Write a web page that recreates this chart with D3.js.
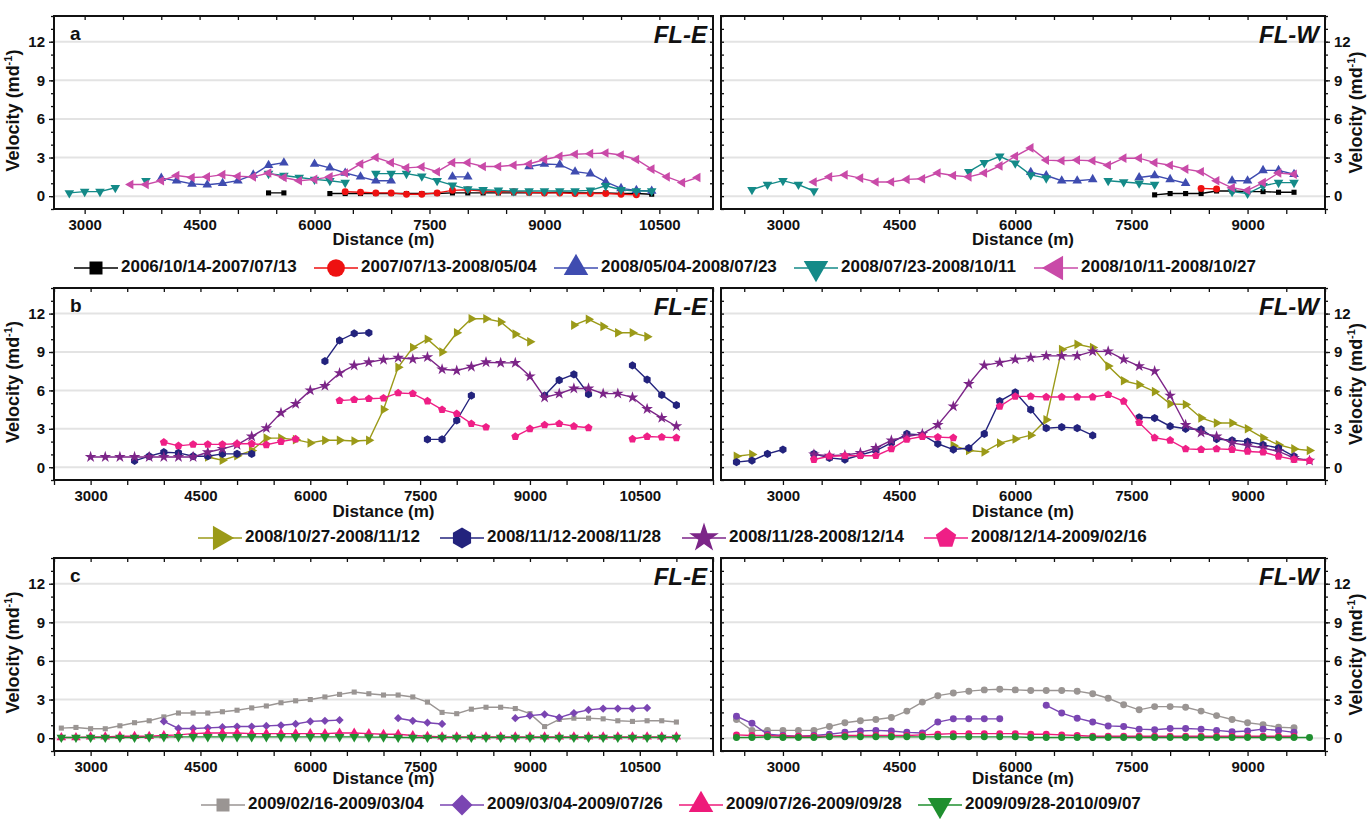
<!DOCTYPE html>
<html>
<head>
<meta charset="utf-8">
<script src="https://cdn.jsdelivr.net/npm/d3@7"></script>
<style>
  body { margin: 0; background: #fff; }
  svg { display: block; }
  text { font-family: "Liberation Sans", Arial, sans-serif; font-weight: bold; fill: #111; }
</style>
</head>
<body>
<script>
// ---- data: [distance (m), velocity (m/d)], null = gap in the profile ----

// panel a, FL-E
const aE_0614 = [[5400,0.25],[5600,0.25],null,[6200,0.2],[6400,0.2],[6600,0.2],[6800,0.2],[7000,0.2],[7200,0.2],[7400,0.2],[7600,0.2],[7800,0.25],[8000,0.25],[8200,0.25],[8400,0.25],[8600,0.25],[8800,0.25],[9000,0.25],[9200,0.3],[9400,0.25],[9600,0.25],[9800,0.25],[10000,0.2],[10200,0.2],[10400,0.15]];
const aE_0713 = [[6400,0.35],[6600,0.3],[6800,0.25],[7000,0.25],[7200,0.15],[7400,0.15],[7600,0.25],[7800,0.45],[8000,0.5],[8200,0.4],[8400,0.35],[8600,0.35],[8800,0.3],[9000,0.25],[9200,0.25],[9400,0.2],[9600,0.2],[9800,0.2],[10000,0.15],[10200,0.1]];
const aE_0504 = [[4000,1.4],[4200,1.2],[4400,0.95],[4600,0.88],[4800,1.0],[5000,1.2],[5200,1.65],[5400,2.4],[5600,2.6],null,[6000,2.5],[6200,2.2],[6400,1.8],[6600,1.5],[6800,1.2],[7000,1.2],null,[7800,1.5],[8000,1.5],null,[8800,2.3],[9000,2.5],[9200,2.45],[9400,1.9],[9600,1.75],[9800,1.1],[10000,0.6],[10200,0.45],[10400,0.4]];
const aE_0723 = [[2800,0.25],[3000,0.35],[3200,0.35],[3400,0.65],null,[3800,1.2],null,[5400,1.75],[5600,1.6],[5800,1.45],[6000,1.3],[6200,1.2],[6400,1.05],null,[6800,1.75],[7000,1.75],[7200,1.75],[7400,1.55],[7600,1.2],[7800,0.85],[8000,0.55],[8200,0.5],[8400,0.45],[8600,0.4],[8800,0.4],[9000,0.4],[9200,0.4],[9400,0.4],[9600,0.45],[9800,0.8],[10000,0.5],[10200,0.4],[10400,0.4]];
const aE_1011 = [[3600,0.9],[3800,0.9],[4000,1.2],[4200,1.6],[4400,1.45],[4600,1.5],[4800,1.67],[5000,1.55],[5200,1.5],[5400,1.8],[5600,1.45],[5800,1.2],[6000,1.3],[6200,1.5],[6400,1.8],[6600,2.5],[6800,3.0],[7000,2.6],[7200,2.2],[7400,2.27],[7600,1.9],[7800,2.6],[8000,2.6],[8200,2.3],[8400,2.3],[8600,2.4],[8800,2.5],[9000,2.85],[9200,3.1],[9400,3.25],[9600,3.3],[9800,3.35],[10000,3.2],[10200,2.85],[10400,2.1],[10600,1.5],[10800,1.05],[11000,1.45]];

// panel a, FL-W
const aW_0614 = [[7800,0.1],[8000,0.2],[8200,0.2],[8400,0.2],[8600,0.4],[8800,0.4],[9000,0.35],[9200,0.35],[9400,0.3],[9600,0.3]];
const aW_0713 = [[8400,0.6],[8600,0.55]];
const aW_0504 = [[6200,1.85],[6400,1.6],[6600,1.2],[6800,1.2],[7000,1.3],null,[7600,1.45],[7800,1.6],[8000,1.3],[8200,1.0],null,[8800,1.2],[9000,1.2],[9200,2.0],[9400,2.0],[9600,1.7]];
const aW_0723 = [[2600,0.5],[2800,0.9],[3000,1.2],[3200,0.9],[3400,0.4],null,[5400,1.9],[5600,2.6],[5800,3.1],[6000,2.55],[6200,1.65],[6400,1.4],null,[7200,1.2],[7400,1.1],[7600,1.0],[7800,0.9],null,[8800,0.35],[9000,0.2],[9200,0.8],[9400,1.05],[9600,1.05]];
const aW_1011 = [[3400,1.1],[3600,1.5],[3800,1.65],[4000,1.4],[4200,1.1],[4400,1.1],[4600,1.3],[4800,1.35],[5000,1.8],[5200,1.6],[5400,1.5],[5600,1.8],[5800,2.35],[6000,3.1],[6200,3.75],[6400,2.8],[6600,2.75],[6800,2.8],[7000,2.75],[7200,2.4],[7400,2.95],[7600,2.95],[7800,2.6],[8000,2.4],[8200,2.1],[8400,1.9],[8600,1.2],[8800,0.65],[9000,0.45],[9200,1.05],[9400,1.8],[9600,1.7]];

// panel b, FL-E
const bE_1027 = [[4600,0.8],[4800,0.55],[5000,0.9],[5200,1.3],[5400,2.27],[5600,2.27],[5800,2.15],[6000,1.9],[6200,2.1],[6400,2.1],[6600,2.05],[6800,2.1],[7000,4.5],[7200,7.8],[7400,9.35],[7600,10.0],[7800,9.0],[8000,10.5],[8200,11.6],[8400,11.6],[8600,11.35],[8800,10.4],[9000,9.8],null,[9600,11.1],[9800,11.55],[10000,11.0],[10200,10.5],[10400,10.5],[10600,10.2]];
const bE_1112 = [[3600,0.5],[3800,0.86],[4000,1.17],[4200,1.12],[4400,0.86],[4600,0.86],[4800,1.04],[5000,1.04],[5200,1.04],null,[6200,8.28],[6400,9.9],[6600,10.45],[6800,10.5],null,[7600,2.17],[7800,2.17],[8000,3.65],[8200,5.6],null,[9200,5.6],[9400,6.8],[9600,7.25],[9800,5.7],null,[10400,7.95],[10600,6.85],[10800,5.65],[11000,4.85]];
const bE_1128 = [[3000,0.8],[3200,0.8],[3400,0.8],[3600,0.8],[3800,0.8],[4000,0.8],[4200,0.8],[4400,0.8],[4600,1.17],[4800,1.43],[5000,1.75],[5200,2.4],[5400,3.05],[5600,4.25],[5800,4.95],[6000,6.0],[6200,6.35],[6400,7.35],[6600,7.95],[6800,8.2],[7000,8.4],[7200,8.55],[7400,8.45],[7600,8.6],[7800,7.65],[8000,7.55],[8200,7.85],[8400,8.2],[8600,8.15],[8800,8.15],[9000,7.1],[9200,5.45],[9400,5.75],[9600,6.15],[9800,6.15],[10000,5.75],[10200,5.75],[10400,5.45],[10600,4.55],[10800,3.85],[11000,3.2]];
const bE_1214 = [[4000,1.95],[4200,1.67],[4400,1.78],[4600,1.78],[4800,1.78],[5000,1.83],[5200,1.83],[5400,1.75],[5600,2.0],[5800,2.2],null,[6400,5.2],[6600,5.28],[6800,5.35],[7000,5.4],[7200,5.8],[7400,5.75],[7600,5.17],[7800,4.5],[8000,4.18],[8200,3.4],[8400,3.13],null,[8800,2.4],[9000,3.0],[9200,3.3],[9400,3.4],[9600,3.2],[9800,3.08],null,[10400,2.2],[10600,2.4],[10800,2.35],[11000,2.3]];

// panel b, FL-W
const bW_1027 = [[2400,0.86],[2600,1.0],null,[5200,1.7],[5400,1.3],[5600,1.2],[5800,1.88],[6000,2.2],[6200,2.5],[6400,3.7],[6600,9.2],[6800,9.6],[7000,9.35],[7200,7.9],[7400,6.75],[7600,6.45],[7800,5.9],[8000,4.95],[8200,4.9],[8400,3.85],[8600,3.45],[8800,3.45],[9000,3.0],[9200,2.3],[9400,1.75],[9600,1.43],[9800,1.3]];
const bW_1112 = [[2400,0.4],[2600,0.52],[2800,1.04],[3000,1.38],null,[3400,1.04],[3600,0.73],[3800,0.6],[4000,0.95],[4200,1.3],[4400,1.9],[4600,2.6],[4800,2.53],[5000,1.83],[5200,1.38],[5400,1.5],[5600,2.6],[5800,5.17],[6000,5.85],[6200,4.5],[6400,3.05],[6600,3.13],[6800,3.05],[7000,2.48],null,[7600,3.9],[7800,3.84],[8000,3.2],[8200,3.0],[8400,2.95],[8600,2.2],[8800,2.1],[9000,2.0],[9200,1.75],[9400,1.5],[9600,0.85]];
const bW_1128 = [[3400,1.0],[3600,0.9],[3800,0.95],[4000,1.12],[4200,1.5],[4400,2.1],[4600,2.4],[4800,2.6],[5000,3.3],[5200,4.75],[5400,6.5],[5600,7.96],[5800,8.17],[6000,8.43],[6200,8.56],[6400,8.7],[6600,8.7],[6800,8.7],[7000,9.05],[7200,9.05],[7400,8.43],[7600,7.9],[7800,7.5],[8000,5.6],[8200,3.3],[8400,2.7],[8600,2.4],[8800,1.9],[9000,1.7],[9200,1.5],[9400,1.23],[9600,0.73],[9800,0.52]];
const bW_1214 = [[3400,0.6],[3600,0.86],[3800,0.9],[4000,0.9],[4200,0.9],[4400,1.43],[4600,2.17],[4800,2.4],[5000,2.35],[5200,2.3],null,[5800,4.75],[6000,5.53],[6200,5.53],[6400,5.48],[6600,5.48],[6800,5.48],[7000,5.48],[7200,5.67],[7400,5.15],[7600,3.48],[7800,2.3],[8000,2.1],[8200,1.43],[8400,1.38],[8600,1.43],[8800,1.38],[9000,1.23],[9200,1.17],[9400,0.85],[9600,0.6],[9800,0.52]];

// panel c, FL-E
const cE_0216 = [[2600,0.78],[2800,0.83],[3000,0.73],[3200,0.73],[3400,0.96],[3600,1.2],[3800,1.35],[4000,1.65],[4200,1.95],[4400,1.95],[4600,1.95],[4800,2.05],[5000,2.17],[5200,2.35],[5400,2.5],[5600,2.75],[5800,2.9],[6000,3.0],[6200,3.2],[6400,3.4],[6600,3.58],[6800,3.45],[7000,3.35],[7200,3.35],[7400,3.2],[7600,2.8],[7800,2.0],[8000,1.9],[8200,2.25],[8400,2.4],[8600,2.4],[8800,2.3],[9000,1.9],[9200,0.9],[9400,1.45],[9600,1.55],[9800,1.55],[10000,1.5],[10200,1.35],[10400,1.3],[10600,1.35],[10800,1.35],[11000,1.25]];
const cE_0304 = [[4000,1.3],[4200,0.75],[4400,0.75],[4600,0.8],[4800,0.85],[5000,0.9],[5200,0.9],[5400,0.95],[5600,1.0],[5800,1.1],[6000,1.3],[6200,1.35],[6400,1.4],null,[7200,1.55],[7400,1.35],[7600,1.2],[7800,1.1],null,[8800,1.55],[9000,1.75],[9200,1.85],[9400,1.6],[9600,1.95],[9800,2.2],[10000,2.3],[10200,2.3],[10400,2.3],[10600,2.35]];
const cE_0726 = [[2600,0.05],[2800,0.05],[3000,0.1],[3200,0.1],[3400,0.15],[3600,0.15],[3800,0.15],[4000,0.2],[4200,0.25],[4400,0.35],[4600,0.4],[4800,0.4],[5000,0.4],[5200,0.35],[5400,0.35],[5600,0.35],[5800,0.35],[6000,0.35],[6200,0.35],[6400,0.4],[6600,0.4],[6800,0.35],[7000,0.3],[7200,0.3],[7400,0.2],[7600,0.15],[7800,0.1],[8000,0.1],[8200,0.1],[8400,0.1],[8600,0.1],[8800,0.1],[9000,0.1],[9200,0.1],[9400,0.1],[9600,0.1],[9800,0.1],[10000,0.1],[10200,0.1],[10400,0.1],[10600,0.1],[10800,0.1],[11000,0.1]];
const cE_0928 = [[2600,0.05],[2800,0.05],[3000,0.05],[3200,0.05],[3400,0.05],[3600,0.05],[3800,0.08],[4000,0.1],[4200,0.1],[4400,0.1],[4600,0.1],[4800,0.1],[5000,0.1],[5200,0.1],[5400,0.1],[5600,0.1],[5800,0.1],[6000,0.1],[6200,0.1],[6400,0.1],[6600,0.1],[6800,0.08],[7000,0.08],[7200,0.05],[7400,0.05],[7600,0.05],[7800,0.05],[8000,0.05],[8200,0.05],[8400,0.05],[8600,0.05],[8800,0.05],[9000,0.05],[9200,0.05],[9400,0.05],[9600,0.05],[9800,0.05],[10000,0.05],[10200,0.05],[10400,0.05],[10600,0.05],[10800,0.05],[11000,0.05]];

// panel c, FL-W
const cW_0216 = [[2400,1.45],[2600,0.6],[2800,0.6],[3000,0.6],[3200,0.6],[3400,0.6],[3600,0.9],[3800,1.2],[4000,1.35],[4200,1.45],[4400,1.6],[4600,2.1],[4800,2.8],[5000,3.3],[5200,3.5],[5400,3.65],[5600,3.75],[5800,3.8],[6000,3.75],[6200,3.7],[6400,3.7],[6600,3.7],[6800,3.65],[7000,3.45],[7200,3.1],[7400,2.6],[7600,2.2],[7800,2.45],[8000,2.45],[8200,2.4],[8400,2.1],[8600,1.75],[8800,1.45],[9000,1.2],[9200,1.05],[9400,0.85],[9600,0.8]];
const cW_0304 = [[2400,1.7],[2600,1.15],[2800,0.3],[3000,0.2],[3200,0.15],[3400,0.2],[3600,0.3],[3800,0.45],[4000,0.55],[4200,0.6],[4400,0.55],[4600,0.45],[4800,0.4],[5000,1.25],[5200,1.5],[5400,1.5],[5600,1.5],[5800,1.5],null,[6400,2.55],[6600,1.95],[6800,1.55],[7000,1.25],[7200,0.95],[7400,0.9],[7600,0.7],[7800,0.65],[8000,0.75],[8200,0.75],[8400,0.7],[8600,0.6],[8800,0.5],[9000,0.55],[9200,0.7],[9400,0.6],[9600,0.45]];
const cW_0726 = [[2400,0.25],[2600,0.2],[2800,0.2],[3000,0.15],[3200,0.15],[3400,0.15],[3600,0.15],[3800,0.2],[4000,0.2],[4200,0.2],[4400,0.2],[4600,0.2],[4800,0.25],[5000,0.3],[5200,0.35],[5400,0.35],[5600,0.35],[5800,0.35],[6000,0.35],[6200,0.3],[6400,0.3],[6600,0.25],[6800,0.2],[7000,0.15],[7200,0.15],[7400,0.15],[7600,0.15],[7800,0.15],[8000,0.15],[8200,0.15],[8400,0.15],[8600,0.15],[8800,0.15],[9000,0.15],[9200,0.15],[9400,0.15],[9600,0.15]];
const cW_0928 = [[2400,0.05],[2600,0.05],[2800,0.1],[3000,0.05],[3200,0.05],[3400,0.05],[3600,0.1],[3800,0.1],[4000,0.1],[4200,0.1],[4400,0.1],[4600,0.1],[4800,0.1],[5000,0.1],[5200,0.1],[5400,0.1],[5600,0.1],[5800,0.1],[6000,0.1],[6200,0.05],[6400,0.05],[6600,0.05],[6800,0.05],[7000,0.05],[7200,0.05],[7400,0.05],[7600,0.05],[7800,0.05],[8000,0.05],[8200,0.05],[8400,0.05],[8600,0.05],[8800,0.05],[9000,0.05],[9200,0.05],[9400,0.05],[9600,0.05],[9800,0.05]];

// legend labels
const legendA = ["2006/10/14-2007/07/13","2007/07/13-2008/05/04","2008/05/04-2008/07/23","2008/07/23-2008/10/11","2008/10/11-2008/10/27"];
const legendB = ["2008/10/27-2008/11/12","2008/11/12-2008/11/28","2008/11/28-2008/12/14","2008/12/14-2009/02/16"];
const legendC = ["2009/02/16-2009/03/04","2009/03/04-2009/07/26","2009/07/26-2009/09/28","2009/09/28-2010/09/07"];

const yTickLabels = [0, 3, 6, 9, 12];

// ---- styles ----
const poly = n => ({
  draw(ctx, size) {
    const r = Math.sqrt(size / (n / 2 * Math.sin(2 * Math.PI / n)));
    for (let i = 0; i < n; i++) {
      const a = -Math.PI / 2 + i * 2 * Math.PI / n;
      i ? ctx.lineTo(r * Math.cos(a), r * Math.sin(a)) : ctx.moveTo(r * Math.cos(a), r * Math.sin(a));
    }
    ctx.closePath();
  }
});

const sq = {type: d3.symbolSquare, rot: 0, size: 26};
const circ = {type: d3.symbolCircle, rot: 0, size: 38};
const triUp = {type: d3.symbolTriangle, rot: 0, size: 40};
const triDown = {type: d3.symbolTriangle, rot: 180, size: 40};
const triLeft = {type: d3.symbolTriangle, rot: -90, size: 40};
const triRight = {type: d3.symbolTriangle, rot: 90, size: 40};
const hex = {type: poly(6), rot: 0, size: 44};
const star = {type: d3.symbolStar, rot: 0, size: 42};
const pent = {type: poly(5), rot: 0, size: 42};
const diam = {type: d3.symbolSquare, rot: 45, size: 34};

const stA = [
  {color: "#000000", m: sq},
  {color: "#ee1111", m: circ},
  {color: "#3f4cb0", m: triUp},
  {color: "#148a88", m: triDown},
  {color: "#c94aa8", m: triLeft}
];
const stB = [
  {color: "#9b9a18", m: triRight},
  {color: "#23237d", m: hex},
  {color: "#7c2588", m: star},
  {color: "#ef1f86", m: pent}
];
const stC = [
  {color: "#9a9593", m: sq},
  {color: "#7a45b2", m: diam},
  {color: "#ee1a7a", m: triUp},
  {color: "#1f8f2f", m: triDown}
];

const rows = [
  {letter: "a", top: 16, bottom: 209, legY: 268, titleY: 241, legX0: 96, legStep: 240, leftDomain: [2600, 11200],
   E: [aE_0614, aE_0713, aE_0504, aE_0723, aE_1011], W: [aW_0614, aW_0713, aW_0504, aW_0723, aW_1011],
   styles: stA, legend: legendA, wCircles: false},
  {letter: "b", top: 288, bottom: 480, legY: 538, titleY: 513, legX0: 220, legStep: 242, leftDomain: [2500, 11500],
   E: [bE_1027, bE_1112, bE_1128, bE_1214], W: [bW_1027, bW_1112, bW_1128, bW_1214],
   styles: stB, legend: legendB, wCircles: false},
  {letter: "c", top: 558, bottom: 751, legY: 805, titleY: 780, legX0: 223, legStep: 239, leftDomain: [2500, 11500],
   E: [cE_0216, cE_0304, cE_0726, cE_0928], W: [cW_0216, cW_0304, cW_0726, cW_0928],
   styles: stC, legend: legendC, wCircles: true}
];

const width = 1367, height = 819;
const svg = d3.select("body").append("svg").attr("width", width).attr("height", height);

function yTitle(g, x, yc) {
  const t = g.append("text")
    .attr("transform", `translate(${x},${yc}) rotate(-90)`)
    .attr("text-anchor", "middle")
    .style("font-size", "18px");
  t.append("tspan").text("Velocity (md");
  t.append("tspan").attr("dy", -7).style("font-size", "11px").text("-1");
  t.append("tspan").attr("dy", 7).text(")");
}

function panel(row, side) {
  const left = side === "E";
  const x0 = left ? 54 : 721, x1 = left ? 713 : 1325;
  const x = d3.scaleLinear().domain(left ? row.leftDomain : [2200, 10000]).range([x0, x1]);
  const y = d3.scaleLinear().domain([-1, 14]).range([row.bottom, row.top]);
  const g = svg.append("g");

  // grid
  g.selectAll(".grid").data(yTickLabels).enter().append("line")
    .attr("x1", x0).attr("x2", x1)
    .attr("y1", d => y(d)).attr("y2", d => y(d))
    .attr("stroke", "#e3e3e3").attr("stroke-width", 2);

  // series
  const line = d3.line().defined(d => d).x(d => x(d[0])).y(d => y(d[1]));
  const data = row[side];
  data.forEach((s, i) => {
    const st = row.styles[i];
    const m = (!left && row.wCircles) ? circ : st.m;
    g.append("path").attr("d", line(s)).attr("fill", "none")
      .attr("stroke", st.color).attr("stroke-width", 1.4);
    g.selectAll(null).data(s.filter(d => d)).enter().append("path")
      .attr("d", d3.symbol().type(m.type).size(m.size))
      .attr("transform", d => `translate(${x(d[0])},${y(d[1])}) rotate(${m.rot})`)
      .attr("fill", st.color);
  });

  // x axis ticks
  const xt = d3.range(Math.ceil(x.domain()[0] / 500) * 500, x.domain()[1] + 1, 500);
  const xb = g.append("g").attr("transform", `translate(0,${row.bottom})`)
    .call(d3.axisBottom(x).tickValues(xt).tickSize(5).tickPadding(5)
      .tickFormat(d => d % 1500 === 0 ? d : ""));
  xb.select(".domain").remove();
  xb.selectAll("text").style("font-size", "15px").attr("fill", "#111");
  const xtop = g.append("g").attr("transform", `translate(0,${row.top})`)
    .call(d3.axisTop(x).tickValues(xt).tickSize(-4).tickFormat(""));
  xtop.select(".domain").remove();

  // y axis ticks
  const yMinor = d3.range(-1, 15);
  const outer = left ? d3.axisLeft(y) : d3.axisRight(y);
  const inner = left ? d3.axisRight(y) : d3.axisLeft(y);
  const yo = g.append("g").attr("transform", `translate(${left ? x0 : x1},0)`);
  yo.call(outer.tickValues(yMinor).tickSize(3).tickFormat(""));
  yo.append("g").call((left ? d3.axisLeft(y) : d3.axisRight(y)).tickValues(yTickLabels).tickSize(5).tickPadding(4))
    .selectAll("text").style("font-size", "15px").attr("fill", "#111");
  yo.selectAll(".domain").remove();
  const yi = g.append("g").attr("transform", `translate(${left ? x1 : x0},0)`)
    .call(inner.tickValues(yMinor).tickSize(-3).tickFormat(""));
  yi.select(".domain").remove();
  g.selectAll(".tick line").attr("stroke", "#111").attr("stroke-width", 1.3);

  // frame
  g.append("rect").attr("x", x0).attr("y", row.top).attr("width", x1 - x0).attr("height", row.bottom - row.top)
    .attr("fill", "none").attr("stroke", "#111").attr("stroke-width", 2);

  // labels
  g.append("text").attr("x", (x0 + x1) / 2).attr("y", row.titleY).attr("text-anchor", "middle")
    .attr("dominant-baseline", "middle").style("font-size", "17px").text("Distance (m)");
  g.append("text").attr("x", x1 - 6).attr("y", row.top + 27).attr("text-anchor", "end")
    .style("font-size", "24px").style("font-style", "italic").text(left ? "FL-E" : "FL-W");
  if (left) {
    g.append("text").attr("x", 70).attr("y", row.top + 24).style("font-size", "19px").text(row.letter);
    yTitle(g, 19, (row.top + row.bottom) / 2 - 2);
  } else {
    yTitle(g, 1362, (row.top + row.bottom) / 2);
  }
}

function legend(row) {
  const g = svg.append("g");
  row.legend.forEach((lab, i) => {
    const st = row.styles[i];
    const cx = row.legX0 + i * row.legStep;
    g.append("line").attr("x1", cx - 22).attr("x2", cx + 22).attr("y1", row.legY).attr("y2", row.legY)
      .attr("stroke", st.color).attr("stroke-width", 1.6);
    g.append("path").attr("d", d3.symbol().type(st.m.type).size(st.m.size * 6.5))
      .attr("transform", `translate(${cx},${row.legY}) rotate(${st.m.rot})`).attr("fill", st.color);
    g.append("text").attr("x", cx + 25).attr("y", row.legY).attr("dominant-baseline", "middle")
      .style("font-size", "17px").text(lab);
  });
}

rows.forEach(r => { panel(r, "E"); panel(r, "W"); legend(r); });
</script>
</body>
</html>
